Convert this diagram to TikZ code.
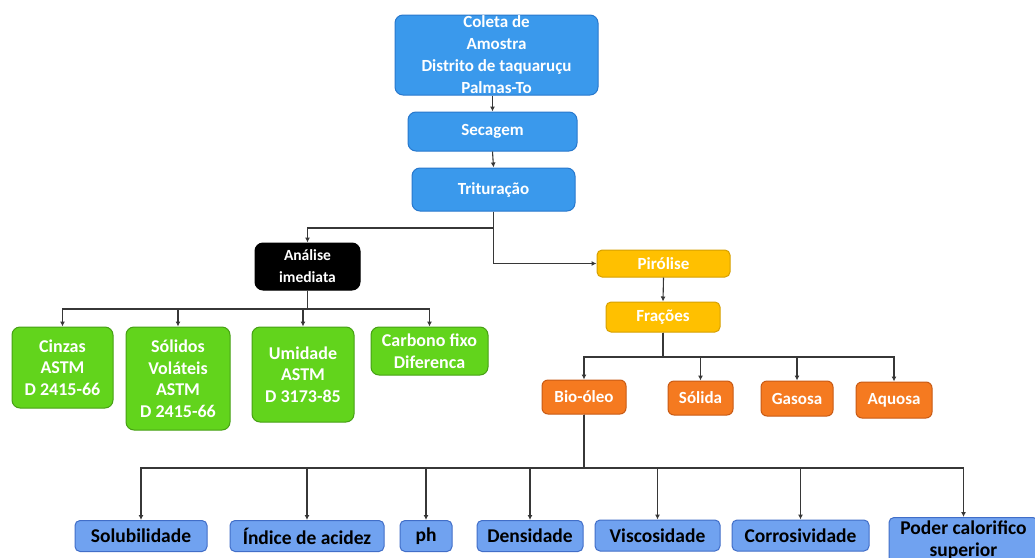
\documentclass[tikz,border=0pt]{standalone}
\usepackage{fontspec}
\setmainfont{Carlito}
\usetikzlibrary{arrows.meta}
\definecolor{topblue}{RGB}{58,153,236}
\definecolor{topblueb}{RGB}{40,120,205}
\definecolor{grn}{RGB}{98,212,28}
\definecolor{grnb}{RGB}{70,160,20}
\definecolor{ylw}{RGB}{255,192,0}
\definecolor{ylwb}{RGB}{215,160,0}
\definecolor{org}{RGB}{245,122,32}
\definecolor{orgb}{RGB}{200,90,20}
\definecolor{lblue}{RGB}{112,162,240}
\definecolor{lblueb}{RGB}{65,110,200}
\definecolor{ln}{RGB}{55,55,55}
\begin{document}
\begin{tikzpicture}[x=1pt,y=-1pt,
  base/.style={rounded corners=8pt, line width=1pt, align=center, inner sep=0pt, font=\bfseries\fontsize{17}{22}\selectfont},
  bluebox/.style={base, fill=topblue, draw=topblueb, text=white},
  blackbox/.style={base, fill=black, draw=black, text=white, font=\bfseries\fontsize{15.5}{22}\selectfont},
  greenbox/.style={base, fill=grn, draw=grnb, text=white, font=\bfseries\fontsize{18}{21.5}\selectfont},
  yellowbox/.style={base, fill=ylw, draw=ylwb, text=white, rounded corners=5pt},
  orangebox/.style={base, fill=org, draw=orgb, text=white, font=\bfseries\fontsize{17}{21}\selectfont, rounded corners=6pt},
  lbox/.style={base, fill=lblue, draw=lblueb, text=black, font=\bfseries\fontsize{19.5}{22}\selectfont, rounded corners=5pt},
  arr/.style={draw=ln, line width=1.1pt, -{Latex[length=5pt,width=5pt]}},
]
\useasboundingbox (0,0) rectangle (1035,557);
\fill[white] (0,0) rectangle (1035,557);

% top chain
\node[bluebox, minimum width=203, minimum height=80] (coleta) at (496.5,55) {Coleta de\\Amostra\\Distrito de taquaruçu\\Palmas-To};
\node[bluebox, minimum width=169, minimum height=39] (secagem) at (492.5,131.5) {Secagem};
\node[bluebox, minimum width=163, minimum height=43] (trit) at (493.5,189.5) {Trituração};

% analise
\node[blackbox, minimum width=105, minimum height=47] (analise) at (307.5,266.5) {Análise\\imediata};
\node[greenbox, minimum width=101, minimum height=81] (cinzas) at (62.5,367.5) {Cinzas\\ASTM\\D 2415-66};
\node[greenbox, minimum width=104, minimum height=103] (solidos) at (178,378.5) {Sólidos\\Voláteis\\ASTM\\D 2415-66};
\node[greenbox, minimum width=102, minimum height=95] (umidade) at (303,374.5) {Umidade\\ASTM\\D 3173-85};
\node[greenbox, minimum width=117, minimum height=48] (carbono) at (429.5,351) {Carbono fixo\\Diferenca};

% pirolise
\node[yellowbox, minimum width=133, minimum height=27] (pirolise) at (663.5,263.5) {Pirólise};
\node[yellowbox, minimum width=114, minimum height=30] (fracoes) at (663,317) {Frações};
\node[orangebox, minimum width=84, minimum height=34] (bio) at (584,397) {Bio-óleo};
\node[orangebox, minimum width=65, minimum height=34] (solida) at (700.5,398) {Sólida};
\node[orangebox, minimum width=72, minimum height=35] (gasosa) at (797,398.5) {Gasosa};
\node[orangebox, minimum width=76, minimum height=36] (aquosa) at (894,400) {Aquosa};

% bottom row
\node[lbox, minimum width=132, minimum height=31] (solub) at (141,536) {Solubilidade};
\node[lbox, minimum width=154, minimum height=31] (indice) at (307,536) {Índice de acidez};
\node[lbox, minimum width=52, minimum height=31] (ph) at (426,536) {ph};
\node[lbox, minimum width=106, minimum height=31] (dens) at (530,536) {Densidade};
\node[lbox, minimum width=125, minimum height=31] (visc) at (657.5,535.5) {Viscosidade};
\node[lbox, minimum width=137, minimum height=31] (corr) at (800.5,535.5) {Corrosividade};
\node[lbox, minimum width=149, minimum height=46, anchor=north] (poder) at (963.5,517) {Poder calorifico\\superior};

% junctions
\coordinate (j1) at (493.5,228);
\coordinate (j2) at (307.5,309);
\coordinate (j3) at (663,357);
\coordinate (j4) at (584,468);

% connectors
\draw[arr] (coleta.south -| secagem.north) -- (secagem.north);
\draw[arr] (secagem.south) -- (trit.north);
\draw[arr] (trit.south) -- (j1) -| (analise.north);
\draw[arr] (trit.south) |- (pirolise.west);
\foreach \c in {cinzas,solidos,umidade,carbono}{
  \draw[arr] (analise.south) -- (j2) -| (\c.north);
}
\draw[arr] (pirolise.south) -- (fracoes.north);
\foreach \c in {bio,solida,gasosa,aquosa}{
  \draw[arr] (fracoes.south) -- (j3) -| (\c.north);
}
\foreach \c in {solub,indice,ph,dens,visc,corr,poder}{
  \draw[arr] (bio.south) -- (j4) -| (\c.north);
}
\end{tikzpicture}
\end{document}
